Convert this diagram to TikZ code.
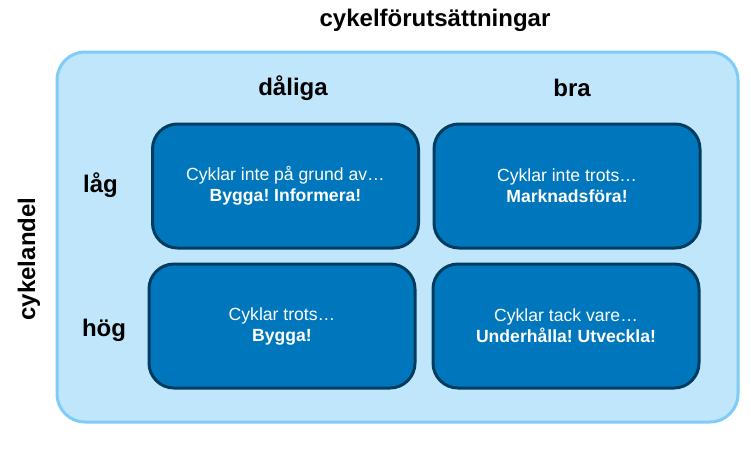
\documentclass[tikz,border=0pt]{standalone}
\usepackage{fontspec}
\setmainfont{Liberation Sans}
\frenchspacing
\definecolor{outerfill}{HTML}{C0E6FC}
\definecolor{outerline}{HTML}{80CCF8}
\definecolor{boxfill}{HTML}{0077BC}
\definecolor{boxline}{HTML}{003C60}
\tikzset{
  outerbox/.style={draw=outerline, fill=outerfill, line width=3pt, rounded corners=28pt},
  cell/.style={draw=boxline, fill=boxfill, line width=3pt, rounded corners=25pt, text=white,
    align=center, font=\fontsize{17.6}{21}\selectfont, inner sep=0pt,
    minimum width=266pt, minimum height=124pt},
  lbl/.style={font=\fontsize{24}{28}\selectfont\bfseries, text=black},
}
\begin{document}
\begin{tikzpicture}[x=1pt,y=-1pt]
\useasboundingbox (0,0) rectangle (751,458);
\draw[outerbox] (57,52) rectangle (738,422);
\node[lbl] (title) at (435,20) {cykelförutsättningar};
\node[lbl, rotate=90] (yaxis) at (29,259) {cykelandel};
\node[lbl] (dal) at (293,88) {dåliga};
\node[lbl] (bra) at (572,88) {bra};
\node[lbl] (lag) at (100.5,185) {låg};
\node[lbl] (hog) at (104,330) {hög};
\node[cell] (c11) at (285.5,186) {Cyklar inte på grund av…\\\textbf{Bygga! Informera!}};
\node[cell] (c12) at (567,186) {Cyklar inte trots…\\\textbf{Marknadsföra!}};
\node[cell] (c21) at (282,326) {Cyklar trots…\\\textbf{Bygga!}};
\node[cell] (c22) at (566,326) {Cyklar tack vare…\\\textbf{Underhålla! Utveckla!}};
\end{tikzpicture}
\end{document}
